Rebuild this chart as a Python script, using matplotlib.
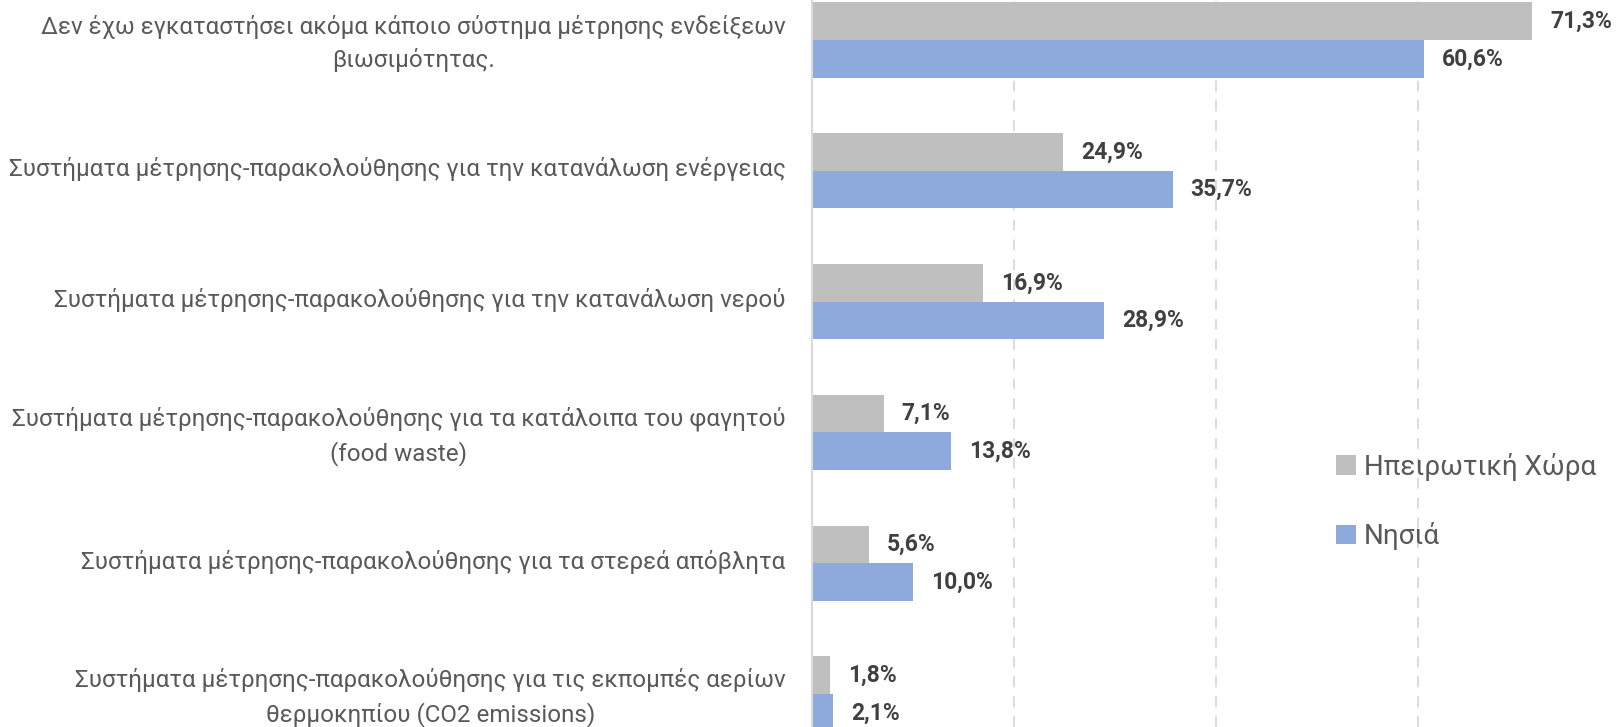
import matplotlib
matplotlib.use("Agg")
import matplotlib.pyplot as plt
import matplotlib.transforms as mtransforms
import numpy as np

categories = [
    "Δεν έχω εγκαταστήσει ακόμα κάποιο σύστημα μέτρησης ενδείξεων\nβιωσιμότητας.",
    "Συστήματα μέτρησης-παρακολούθησης για την κατανάλωση ενέργειας",
    "Συστήματα μέτρησης-παρακολούθησης για την κατανάλωση νερού",
    "Συστήματα μέτρησης-παρακολούθησης για τα κατάλοιπα του φαγητού\n(food waste)",
    "Συστήματα μέτρησης-παρακολούθησης για τα στερεά απόβλητα",
    "Συστήματα μέτρησης-παρακολούθησης για τις εκπομπές αερίων\nθερμοκηπίου (CO2 emissions)",
]
mainland = [71.3, 24.9, 16.9, 7.1, 5.6, 1.8]
islands = [60.6, 35.7, 28.9, 13.8, 10.0, 2.1]
series_names = ["Ηπειρωτική Χώρα", "Νησιά"]

plt.rcParams['font.family'] = ['Roboto', 'DejaVu Sans']

fig = plt.figure(figsize=(16.2, 7.27), dpi=100)
ax = fig.add_axes([812 / 1620, 0, 1 - 812 / 1620, 1])

y = np.arange(len(categories))
h = 0.288
b1 = ax.barh(y - h / 2, mainland, height=h, color="#BFBFBF", label=series_names[0])
b2 = ax.barh(y + h / 2, islands, height=h, color="#8EA9DB", label=series_names[1])

for bars, vals in [(b1, mainland), (b2, islands)]:
    for bar, v in zip(bars, vals):
        ax.annotate(f"{v:.1f}%".replace(".", ","),
                    (bar.get_width(), bar.get_y() + bar.get_height() / 2),
                    xytext=(18, 0), textcoords="offset pixels",
                    va="center", ha="left", fontsize=16.5, fontweight="bold",
                    color="#404040")

ax.set_xlim(0, 80)
ax.set_ylim(5.252, -0.306)
ax.set_xticks([20, 40, 60])
ax.xaxis.grid(True, linestyle=(0, (6, 5)), color="#D9D9D9", linewidth=1.3)
ax.set_axisbelow(True)
ax.tick_params(axis="x", length=0, labelbottom=False)
ax.tick_params(axis="y", length=0, pad=19)
ax.set_yticks(y)
ax.set_yticklabels(categories, fontsize=17.4, color="#595959",
                   multialignment="center", linespacing=1.5)
# nudge the category labels up a few pixels
shift = mtransforms.ScaledTranslation(0, 4 / 100, fig.dpi_scale_trans)
for lbl in ax.get_yticklabels():
    lbl.set_transform(lbl.get_transform() + shift)
for s in ["top", "right", "bottom"]:
    ax.spines[s].set_visible(False)
ax.spines["left"].set_color("#D9D9D9")
ax.spines["left"].set_linewidth(1.5)

leg = ax.legend(loc="center left", bbox_to_anchor=(0.618, 0.31), frameon=False,
                fontsize=20, labelcolor="#595959", handlelength=0.7,
                handleheight=0.7, handletextpad=0.3, labelspacing=1.5)

fig.savefig("out.png", dpi=100)
